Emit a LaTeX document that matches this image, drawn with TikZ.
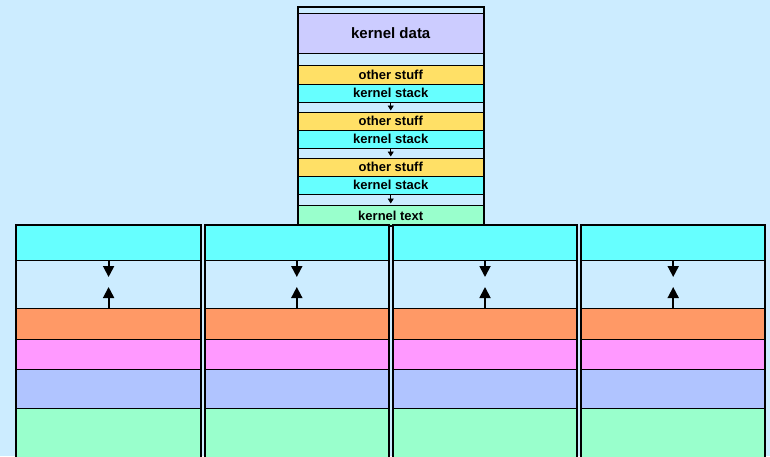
\documentclass[tikz,border=0pt]{standalone}
\usepackage{fontspec}
\setmainfont{Liberation Sans}
\usetikzlibrary{arrows.meta,positioning}

\definecolor{sky}{RGB}{204,236,255}
\definecolor{kdata}{RGB}{204,204,255}
\definecolor{other}{RGB}{255,224,102}
\definecolor{kstack}{RGB}{102,255,255}
\definecolor{ktext}{RGB}{153,255,204}
\definecolor{heap}{RGB}{255,153,102}
\definecolor{bss}{RGB}{255,153,255}
\definecolor{udata}{RGB}{176,196,255}

\begin{document}
\begin{tikzpicture}[x=1pt,y=-1pt,
    band/.style={draw=black,line width=0.8pt,inner sep=0pt,outer sep=0pt,
      minimum width=185.5pt,font=\fontsize{13}{15}\selectfont\bfseries},
    frame/.style={draw=black,line width=2pt},
    small/.style={-{Triangle[length=5pt,width=6pt]},line width=0.8pt},
    big/.style={-{Triangle[length=11pt,width=11pt]},line width=1.8pt}]

  \fill[sky] (0,0) rectangle (770,456);
  \clip (0,0) rectangle (770,456);

  % kernel column
  \node[band,fill=sky,minimum height=6pt,anchor=north] (g0) at (390.75,7) {};
  \node[band,fill=kdata,minimum height=40pt,font=\fontsize{15}{18}\selectfont\bfseries] (kd) [below=0pt of g0] {kernel data};
  \node[band,fill=sky,minimum height=12pt] (g1) [below=0pt of kd] {};
  \node[band,fill=other,minimum height=19pt] (o1) [below=0pt of g1] {other stuff};
  \node[band,fill=kstack,minimum height=18pt] (s1) [below=0pt of o1] {kernel stack};
  \node[band,fill=sky,minimum height=10pt] (g2) [below=0pt of s1] {};
  \node[band,fill=other,minimum height=18pt] (o2) [below=0pt of g2] {other stuff};
  \node[band,fill=kstack,minimum height=18pt] (s2) [below=0pt of o2] {kernel stack};
  \node[band,fill=sky,minimum height=10pt] (g3) [below=0pt of s2] {};
  \node[band,fill=other,minimum height=18pt] (o3) [below=0pt of g3] {other stuff};
  \node[band,fill=kstack,minimum height=18pt] (s3) [below=0pt of o3] {kernel stack};
  \node[band,fill=sky,minimum height=11pt] (g4) [below=0pt of s3] {};
  \node[band,fill=ktext,minimum height=21pt] (kt) [below=0pt of g4] {kernel text};
  \draw[frame] (g0.north west) rectangle (kt.south east);

  \path[small] (s1.south) edge[shorten >=1.5pt] (g2.south)
               (s2.south) edge[shorten >=1.5pt] (g3.south)
               (s3.south) edge[shorten >=1.5pt] (g4.south);

  % process columns
  \foreach \i in {0,...,3} {
    \begin{scope}[band/.append style={minimum width=184.5pt}]
    \node[band,fill=kstack,minimum height=35pt] (cy\i) at (108.6+188.2*\i,242.5) {};
    \node[band,fill=sky,minimum height=48pt] (gp\i) [below=0pt of cy\i] {};
    \node[band,fill=heap,minimum height=31pt] (hp\i) [below=0pt of gp\i] {};
    \node[band,fill=bss,minimum height=30pt] (bs\i) [below=0pt of hp\i] {};
    \node[band,fill=udata,minimum height=39pt] (ud\i) [below=0pt of bs\i] {};
    \node[band,fill=ktext,minimum height=60pt] (ut\i) [below=0pt of ud\i] {};
    \end{scope}
    \draw[frame] (cy\i.north west) rectangle (ut\i.south east);
    \draw[big,shorten >=7pt] (cy\i.south) -- (gp\i.center);
    \draw[big,shorten >=3pt] (hp\i.north) -- (gp\i.center);
  }

\end{tikzpicture}
\end{document}
